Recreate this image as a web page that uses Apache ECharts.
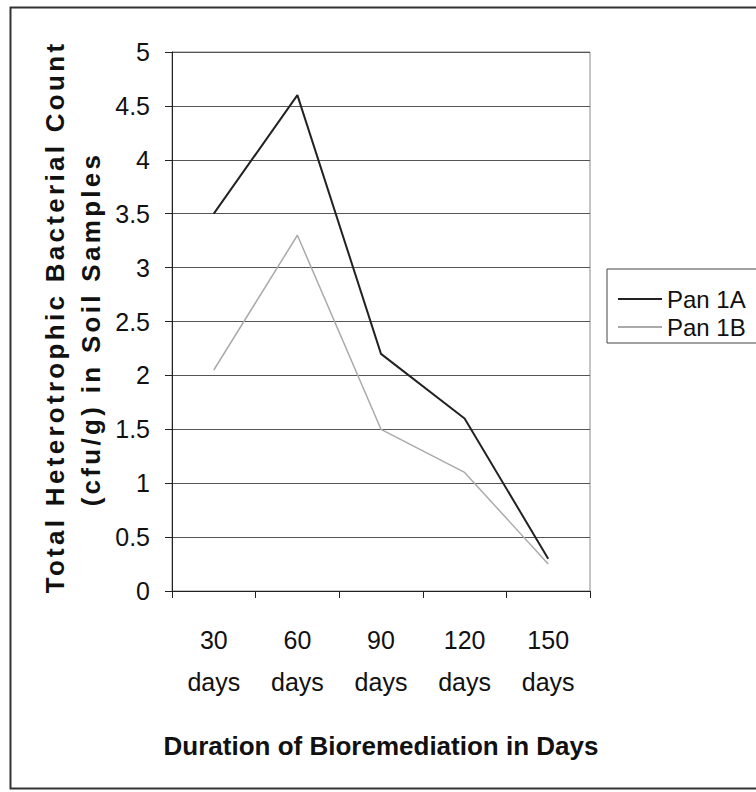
<!DOCTYPE html>
<html>
<head>
<meta charset="utf-8">
<script src="https://cdn.jsdelivr.net/npm/echarts@6/dist/echarts.min.js"></script>
<style>
  html, body { margin: 0; padding: 0; background: #fff; }
  #chart { width: 756px; height: 792px; }
</style>
</head>
<body>
<div id="chart"></div>
<script>
// values
const categories = ['30\ndays', '60\ndays', '90\ndays', '120\ndays', '150\ndays'];
const pan1A = [3.5, 4.6, 2.2, 1.6, 0.3];
const pan1B = [2.05, 3.3, 1.5, 1.1, 0.25];
const seriesNames = ['Pan 1A', 'Pan 1B'];
const yTitle = ['Total Heterotrophic Bacterial Count', '(cfu/g) in Soil Samples'];
const xTitle = 'Duration of Bioremediation in Days';

const font = '"Liberation Sans", Arial, sans-serif';
const chart = echarts.init(document.getElementById('chart'), null, { renderer: 'svg' });

const option = {
  animation: false,
  backgroundColor: '#fff',
  grid: {
    left: 172, right: 166, top: 52, bottom: 201,
    show: true, borderColor: '#888', borderWidth: 1
  },
  legend: {
    left: 607, top: 269,
    orient: 'vertical',
    itemWidth: 44, itemHeight: 2, itemGap: 0,
    padding: [16, 40, 2, 11],
    borderColor: '#444', borderWidth: 1,
    textStyle: { fontFamily: font, fontSize: 24, lineHeight: 28, color: '#111' },
    data: [
      { name: seriesNames[0], icon: 'rect' },
      { name: seriesNames[1], icon: 'rect' }
    ]
  },
  xAxis: {
    type: 'category',
    data: categories,
    boundaryGap: true,
    axisLine: { lineStyle: { color: '#222', width: 1 } },
    axisTick: { show: true, length: 7, lineStyle: { color: '#222' } },
    axisLabel: { fontFamily: font, fontSize: 25, lineHeight: 42, color: '#111', margin: 28 },
    name: xTitle,
    nameLocation: 'middle',
    nameGap: 142,
    nameTextStyle: { fontFamily: font, fontWeight: 'bold', fontSize: 26, color: '#111' }
  },
  yAxis: {
    type: 'value',
    min: 0, max: 5, interval: 0.5,
    axisLine: { show: true, lineStyle: { color: '#222', width: 1 } },
    axisTick: { show: true, length: 7, lineStyle: { color: '#222' } },
    axisLabel: { fontFamily: font, fontSize: 25, color: '#111', margin: 22 },
    splitLine: { show: true, lineStyle: { color: '#555', width: 1 } }
  },
  graphic: [
    {
      type: 'rect', left: 8, top: 5, silent: true,
      shape: { width: 760, height: 781 },
      style: { fill: 'none', stroke: '#333', lineWidth: 2 }
    },
    {
      type: 'text', x: 55, y: 317, rotation: Math.PI / 2, silent: true,
      style: {
        text: yTitle[0], align: 'center', verticalAlign: 'middle',
        fontFamily: font, fontWeight: 'bold', fontSize: 26, fill: '#111'
      }
    },
    {
      type: 'text', x: 91, y: 329, rotation: Math.PI / 2, silent: true,
      style: {
        text: yTitle[1], align: 'center', verticalAlign: 'middle',
        fontFamily: font, fontWeight: 'bold', fontSize: 26, fill: '#111'
      }
    }
  ],
  series: [
    {
      name: seriesNames[0], type: 'line', data: pan1A,
      symbol: 'none', lineStyle: { color: '#222', width: 2 }, itemStyle: { color: '#222' }
    },
    {
      name: seriesNames[1], type: 'line', data: pan1B,
      symbol: 'none', lineStyle: { color: '#aaa', width: 1.5 }, itemStyle: { color: '#aaa' }
    }
  ]
};

chart.setOption(option);

// the scan spreads the letters of the rotated title
document.querySelectorAll('#chart text').forEach(function (t) {
  if (yTitle.indexOf(t.textContent) >= 0) t.setAttribute('letter-spacing', '3.3');
});
</script>
</body>
</html>
